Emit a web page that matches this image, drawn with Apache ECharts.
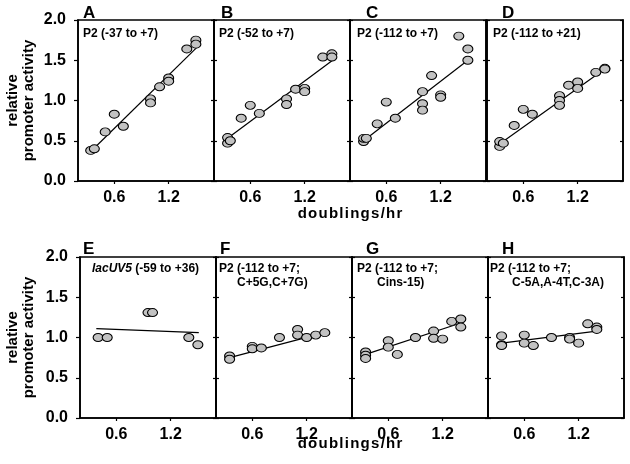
<!DOCTYPE html>
<html>
<head>
<meta charset="utf-8">
<script src="https://cdn.jsdelivr.net/npm/echarts@6/dist/echarts.min.js"></script>
<style>html,body{margin:0;padding:0;background:#fff;}#c{width:630px;height:464px;}</style>
</head>
<body>
<div id="c"></div>
<script>
// ---------- data ----------
const panelLetters = ['A','B','C','D','E','F','G','H'];
const panelLabels = [
  ['P2 (-37 to +7)'], ['P2 (-52 to +7)'], ['P2 (-112 to +7)'], ['P2 (-112 to +21)'],
  ['{i|lacUV5} (-59 to +36)'], ['P2 (-112 to +7;', 'C+5G,C+7G)'],
  ['P2 (-112 to +7;', 'Cins-15)'], ['P2 (-112 to +7;', 'C-5A,A-4T,C-3A)']
];
const xTickValues = [0.6, 1.2];
const yTickValues = [0, 0.5, 1.0, 1.5, 2.0];
const xAxisTitle = 'doublings/hr';
const yAxisTitle = 'relative\npromoter activity';

const xA = [0.34,0.38,0.5,0.6,0.7,1.0,1.0,1.1,1.2,1.2,1.4,1.5,1.5];
const yA = [0.38,0.40,0.61,0.83,0.68,1.02,0.97,1.17,1.28,1.24,1.64,1.75,1.70];
const lineAx = [0.38,1.52], lineAy = [0.41,1.67];

const xB = [0.35,0.35,0.38,0.5,0.6,0.7,1.0,1.0,1.1,1.2,1.2,1.4,1.5,1.5];
const yB = [0.47,0.54,0.50,0.78,0.94,0.84,1.02,0.95,1.14,1.15,1.11,1.54,1.58,1.54];
const lineBx = [0.35,1.52], lineBy = [0.53,1.51];

const xC = [0.35,0.35,0.38,0.5,0.6,0.7,1.0,1.0,1.0,1.1,1.2,1.2,1.4,1.5,1.5];
const yC = [0.49,0.53,0.53,0.71,0.98,0.78,1.11,0.96,0.88,1.31,1.07,1.04,1.80,1.64,1.50];
const lineCx = [0.35,1.5], lineCy = [0.50,1.50];

const xD = [0.34,0.34,0.38,0.5,0.6,0.7,1.0,1.0,1.0,1.1,1.2,1.2,1.4,1.5,1.5];
const yD = [0.43,0.49,0.47,0.69,0.89,0.83,1.06,1.00,0.94,1.19,1.23,1.15,1.35,1.40,1.39];
const lineDx = [0.35,1.51], lineDy = [0.47,1.40];

const xE = [0.4,0.5,0.95,1.0,1.4,1.5];
const yE = [1.0,1.0,1.31,1.31,1.0,0.91];
const lineEx = [0.38,1.51], lineEy = [1.11,1.06];

const xF = [0.35,0.35,0.6,0.6,0.7,0.9,1.1,1.1,1.2,1.3,1.4];
const yF = [0.77,0.73,0.89,0.86,0.87,1.0,1.10,1.03,1.0,1.03,1.06];
const lineFx = [0.35,1.4], lineFy = [0.75,1.06];

const xG = [0.35,0.35,0.35,0.6,0.6,0.7,0.9,1.1,1.1,1.2,1.3,1.4,1.4];
const yG = [0.82,0.78,0.74,0.96,0.88,0.79,1.0,1.08,0.99,0.98,1.20,1.23,1.13];
const lineGx = [0.35,1.4], lineGy = [0.79,1.18];

const xH = [0.35,0.35,0.35,0.6,0.6,0.7,0.9,1.1,1.1,1.2,1.3,1.4,1.4];
const yH = [1.02,0.91,0.90,1.03,0.93,0.90,1.0,1.0,0.98,0.93,1.17,1.13,1.10];
const lineHx = [0.35,1.4], lineHy = [0.93,1.08];

// ---------- layout ----------
const FONT = '"Liberation Sans", Arial, sans-serif';
const pointsX = [xA,xB,xC,xD,xE,xF,xG,xH];
const pointsY = [yA,yB,yC,yD,yE,yF,yG,yH];
const linesX = [lineAx,lineBx,lineCx,lineDx,lineEx,lineFx,lineGx,lineHx];
const linesY = [lineAy,lineBy,lineCy,lineDy,lineEy,lineFy,lineGy,lineHy];

const gridLefts = [78,214,350,487, 80,216,352,488];
const gridTops = [20,20,20,20, 257,257,257,257];
const GW = 136, GH = 161;

const grids = [], xAxes = [], yAxes = [], series = [];
for (let i = 0; i < 8; i++) {
  const firstCol = (i % 4 === 0);
  grids.push({left: gridLefts[i], top: gridTops[i], width: GW, height: GH,
    show: true, borderColor: '#000', borderWidth: 1.6, backgroundColor: 'transparent'});
  xAxes.push({gridIndex: i, type: 'value', min: 0.2, max: 1.7,
    axisLine: {show: true, onZero: false, lineStyle: {color: '#000', width: 1.6}},
    axisTick: {show: true, customValues: xTickValues, length: 3, lineStyle: {color: '#000', width: 1.2}},
    axisLabel: {show: true, customValues: xTickValues, formatter: v => v.toFixed(1),
      color: '#000', fontFamily: FONT, fontWeight: 'bold', fontSize: 16, margin: 9},
    splitLine: {show: false}});
  yAxes.push({gridIndex: i, type: 'value', min: 0, max: 2, interval: 0.5, position: 'left',
    axisLine: {show: true, onZero: false, lineStyle: {color: '#000', width: 1.6}},
    axisTick: {show: true, inside: !firstCol, length: firstCol ? 4 : 3, lineStyle: {color: '#000', width: 1.2}},
    axisLabel: {show: firstCol, formatter: v => v.toFixed(1), color: '#000', fontFamily: FONT,
      fontWeight: 'bold', fontSize: 16, margin: 12},
    splitLine: {show: false}});
  yAxes.push({gridIndex: i, type: 'value', min: 0, max: 2, interval: 0.5, position: 'right',
    axisLine: {show: true, onZero: false, lineStyle: {color: '#000', width: 1.6}},
    axisTick: {show: true, inside: true, length: 3, lineStyle: {color: '#000', width: 1.2}},
    axisLabel: {show: false}, splitLine: {show: false}});
  series.push({type: 'line', xAxisIndex: i, yAxisIndex: 2 * i, z: 2,
    data: linesX[i].map((x, j) => [x, linesY[i][j]]),
    symbol: 'none', lineStyle: {color: '#000', width: 1.2}, silent: true});
  series.push({type: 'scatter', xAxisIndex: i, yAxisIndex: 2 * i, z: 3,
    data: pointsX[i].map((x, j) => [x, pointsY[i][j]]),
    symbol: 'circle', symbolSize: [10, 8],
    itemStyle: {color: '#c2c2c2', borderColor: '#000', borderWidth: 1, opacity: 1}});
}

// graphic texts
const letterPos = [[83,13],[221,13],[366,13],[502,13],[83,249],[220,249],[366,249],[502,249]];
const labelPos = [
  [[83,34]], [[219,34]], [[357,34]], [[493,34]],
  [[92,269]], [[219,269],[237,283]], [[357,269],[377,283]], [[490,269],[512,283]]
];
const graphic = [];
for (let i = 0; i < 8; i++) {
  graphic.push({type: 'text', x: letterPos[i][0], y: letterPos[i][1],
    style: {text: panelLetters[i], font: 'bold 17px ' + FONT, fill: '#000', align: 'left', verticalAlign: 'middle'}});
  panelLabels[i].forEach((t, k) => {
    graphic.push({type: 'text', x: labelPos[i][k][0], y: labelPos[i][k][1],
      style: {text: t, font: 'bold 12px ' + FONT, fill: '#000', align: 'left', verticalAlign: 'middle',
        rich: {i: {fontStyle: 'italic', fontWeight: 'bold', fontSize: 12, fontFamily: FONT, fill: '#000'}}}});
  });
}
[100.5, 337.5].forEach(cy => {
  graphic.push({type: 'text', x: 21, y: cy, rotation: Math.PI / 2,
    style: {text: yAxisTitle, font: 'bold 15px ' + FONT, fill: '#000', align: 'center', verticalAlign: 'middle', lineHeight: 16}});
});
[214, 444].forEach(cy => {
  graphic.push({type: 'text', x: 350, y: cy,
    style: {text: xAxisTitle.split('').join('\u200A'), font: 'bold 15px ' + FONT, fill: '#000', align: 'center', verticalAlign: 'middle'}});
});

const chart = echarts.init(document.getElementById('c'), null, {renderer: 'canvas'});
chart.setOption({
  animation: false,
  backgroundColor: '#fff',
  grid: grids, xAxis: xAxes, yAxis: yAxes, series: series, graphic: graphic
});
</script>
</body>
</html>
